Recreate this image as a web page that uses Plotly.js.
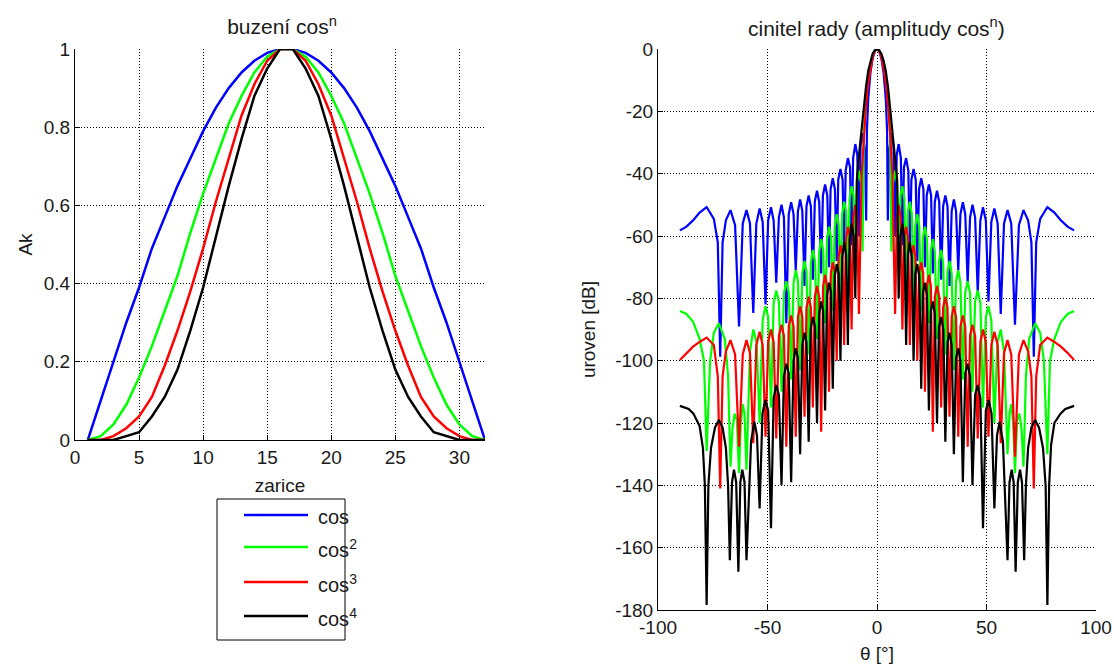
<!DOCTYPE html>
<html>
<head>
<meta charset="utf-8">
<script src="https://cdn.plot.ly/plotly-3.0.1.min.js"></script>
<style>html,body{margin:0;padding:0;background:#fff;}#chart{width:1114px;height:665px;}</style>
</head>
<body>
<div id="chart"></div>
<script>
// ---------- left panel: excitation of the elements ----------
const elements = [1,2,3,4,5,6,7,8,9,10,11,12,13,14,15,16,17,18,19,20,21,22,23,24,25,26,27,28,29,30,31,32];
const ampCos1 = [0,.10,.20,.30,.39,.49,.57,.65,.72,.79,.85,.90,.94,.97,.99,1,1,.99,.97,.94,.90,.85,.79,.72,.65,.57,.49,.39,.30,.20,.10,0];
const ampCos2 = [0,.01,.04,.09,.16,.24,.33,.42,.53,.63,.72,.81,.88,.94,.98,1,1,.98,.94,.88,.81,.72,.63,.53,.42,.33,.24,.16,.09,.04,.01,0];
const ampCos3 = [0,0,.01,.03,.06,.11,.19,.28,.38,.49,.61,.72,.83,.91,.97,1,1,.97,.91,.83,.72,.61,.49,.38,.28,.19,.11,.06,.03,.01,0,0];
const ampCos4 = [0,0,0,.01,.02,.06,.11,.18,.28,.39,.52,.65,.77,.88,.95,1,1,.95,.88,.77,.65,.52,.39,.28,.18,.11,.06,.02,.01,0,0,0];

// ---------- right panel: array factor ----------
const blueTheta = [-90,-87,-84,-81,-77.8,-74.5,-72.7,-71.6,-70.5,-69,-66.9,-64.8,-63,-61.3,-59.6,-58,-56.5,-55.1,-53.6,-52.2,-50.9,-49.7,-48.4,-47.2,-46,-44.8,-43.6,-42.5,-41.4,-40.3,-39.2,-38.1,-37.1,-36.1,-35.1,-34.1,-33.1,-32.2,-31.2,-30.2,-29.3,-28.4,-27.4,-26.4,-25.5,-24.7,-23.7,-22.7,-21.9,-21.2,-20.2,-19.2,-18.4,-17.7,-16.7,-15.7,-15,-14.3,-13.3,-12.3,-11.6,-10.9,-9.9,-9,-8.26,-7.5,-6.6,-5.5,-4.95,-4.6,-4,-3,-2,-1,
  0,1,2,3,4,4.6,4.95,5.5,6.6,7.5,8.26,9,9.9,10.9,11.6,12.3,13.3,14.3,15,15.7,16.7,17.7,18.4,19.2,20.2,21.2,21.9,22.7,23.7,24.7,25.5,26.4,27.4,28.4,29.3,30.2,31.2,32.2,33.1,34.1,35.1,36.1,37.1,38.1,39.2,40.3,41.4,42.5,43.6,44.8,46,47.2,48.4,49.7,50.9,52.2,53.6,55.1,56.5,58,59.6,61.3,63,64.8,66.9,69,70.5,71.6,72.7,74.5,77.8,81,84,87,90];
const blueLevel = [-58.2,-57,-55,-52.5,-50.7,-54.5,-62,-98.7,-62,-55,-51.7,-56.5,-89,-56,-51.7,-56,-84.7,-56,-51.2,-55.5,-82,-55,-50.8,-55,-75,-54,-50,-54,-88,-53,-49.2,-53,-71,-52,-48.3,-52,-76,-50.5,-47,-50.5,-74,-49,-45.5,-49,-72,-47,-43.5,-47,-70,-45,-41.5,-45,-68,-42,-38.5,-42,-65,-39,-35,-38,-63,-35,-30.5,-34,-60,-31,-27,-33,-55,-26,-15.9,-7.6,-3.1,-0.7,
  0,-0.7,-3.1,-7.6,-15.9,-26,-55,-33,-27,-31,-60,-34,-30.5,-35,-63,-38,-35,-39,-65,-42,-38.5,-42,-68,-45,-41.5,-45,-70,-47,-43.5,-47,-72,-49,-45.5,-49,-74,-50.5,-47,-50.5,-76,-52,-48.3,-52,-71,-53,-49.2,-53,-75,-54,-50,-54,-78,-55,-50.8,-55,-81,-55.5,-51.2,-56,-85,-56,-51.7,-56,-88.5,-56.5,-51.7,-55,-62,-98.7,-62,-54.5,-50.7,-52.5,-55,-57,-58.2];

const greenTheta = [-90,-87,-84,-81,-79,-77.8,-76.2,-74.5,-72.2,-69.5,-68,-66.9,-66,-65,-64,-63,-62.2,-61.3,-60.5,-59.6,-58,-56.5,-55,-53.6,-52.2,-50.9,-49.7,-48.4,-47.2,-46,-44.8,-43.6,-42.5,-41.4,-40.3,-39.2,-38.1,-37.1,-36.1,-35.1,-34.1,-33.1,-32.2,-31.2,-30.2,-29.3,-28.3,-27.4,-26.4,-25.5,-24.6,-23.7,-22.8,-21.9,-21,-20.2,-19.3,-18.4,-17.5,-16.7,-15.9,-15,-14.1,-13.3,-12.5,-11.6,-10.7,-9.9,-9.2,-8.3,-7.3,-6.6,-6,-5,-4,-3,-2,-1,
  0,1,2,3,4,5,6,6.6,7.3,8.3,9.2,9.9,10.7,11.6,12.5,13.3,14.1,15,15.9,16.7,17.5,18.4,19.3,20.2,21,21.9,22.8,23.7,24.6,25.5,26.4,27.4,28.3,29.3,30.2,31.2,32.2,33.1,34.1,35.1,36.1,37.1,38.1,39.2,40.3,41.4,42.5,43.6,44.8,46,47.2,48.4,49.7,50.9,52.2,53.6,55,56.5,58,59.6,60.5,61.3,62.2,63,64,65,66,66.9,68,69.5,72.2,74.5,76.2,77.8,79,81,84,87,90];
const greenLevel = [-84.1,-85,-87.5,-93,-100,-129,-100,-91,-88,-93,-105,-134,-122,-117,-119,-136,-120,-114,-117,-135,-97,-90,-94,-120,-87,-82.5,-86,-115,-81.5,-77.5,-81,-110,-78.5,-74.5,-78,-106,-75,-71,-74.5,-103,-72,-68,-71.5,-98,-68.5,-64.5,-68,-93,-65,-61,-64.5,-88,-61,-57,-60.5,-84,-57,-53,-56.5,-80,-53,-49,-52,-76,-48,-44,-47,-72,-43,-39,-43,-65,-27.8,-15.9,-9.2,-5.2,-2.1,-0.5,
  0,-0.5,-2.1,-5.2,-9.2,-15.9,-27.8,-65,-43,-39,-43,-72,-47,-44,-48,-76,-52,-49,-53,-80,-56.5,-53,-57,-84,-60.5,-57,-61,-88,-64.5,-61,-65,-93,-68,-64.5,-68.5,-98,-71.5,-68,-72,-103,-74.5,-71,-75,-106,-78,-74.5,-78.5,-110,-81,-77.5,-81.5,-115,-86,-82.5,-87,-120,-94,-90,-97,-130,-117,-114,-120,-136,-119,-117,-122,-134,-105,-93,-88,-91,-100,-130,-100,-93,-87.5,-85,-84.1];

const redTheta = [-90,-87,-84,-81,-77.8,-74.5,-72.7,-71.6,-70.5,-69,-66.9,-64.8,-63,-61.3,-59.6,-58,-56.5,-55.1,-53.6,-52.2,-50.9,-49.7,-48.4,-47.2,-46,-44.8,-43.6,-42.5,-41.4,-40.3,-39.2,-38.1,-37.1,-36.1,-35.1,-34.1,-33.1,-32.2,-31.2,-30.2,-29.3,-28.4,-27.4,-26.4,-25.5,-24.6,-23.7,-22.8,-21.9,-21.1,-20.2,-19.3,-18.4,-17.6,-16.7,-15.8,-15,-14.2,-13.3,-12.4,-11.6,-10.8,-9.9,-9.1,-8.26,-7,-6,-5,-4,-3,-2,-1,
  0,1,2,3,4,5,6,7,8.26,9.1,9.9,10.8,11.6,12.4,13.3,14.2,15,15.8,16.7,17.6,18.4,19.3,20.2,21.1,21.9,22.8,23.7,24.6,25.5,26.4,27.4,28.4,29.3,30.2,31.2,32.2,33.1,34.1,35.1,36.1,37.1,38.1,39.2,40.3,41.4,42.5,43.6,44.8,46,47.2,48.4,49.7,50.9,52.2,53.6,55.1,56.5,58,59.6,61.3,63,64.8,66.9,69,70.5,71.6,72.7,74.5,77.8,81,84,87,90];
const redLevel = [-99.8,-97.5,-95.5,-94,-92.6,-95,-105,-141,-105,-97,-93.4,-98,-127.6,-98,-93.4,-97.5,-126.5,-95,-90.7,-95,-124.4,-94,-90,-94,-125,-92,-88.5,-92,-127.6,-89,-85.5,-89,-124.4,-86,-82.5,-86,-118,-83,-79.5,-83,-115,-79.5,-76,-79.5,-122.8,-76,-72.5,-76,-110,-72,-68.5,-71.5,-100,-67,-63,-66,-95,-61,-57,-60,-90,-54,-50,-54,-85,-40,-27,-18,-11,-6,-2.6,-0.6,
  0,-0.6,-2.6,-6,-11,-18,-27,-40,-85,-54,-50,-54,-90,-60,-57,-61,-95,-66,-63,-67,-100,-71.5,-68.5,-72,-110,-76,-72.5,-76,-122.8,-79.5,-76,-79.5,-115,-83,-79.5,-83,-118,-86,-82.5,-86,-124.4,-89,-85.5,-89,-127.6,-92,-88.5,-92,-125,-94,-90,-94,-124.4,-95,-90.7,-95,-126.5,-97.5,-93.4,-98,-130.8,-98,-93.4,-97,-105,-141,-105,-95,-92.6,-94,-95.5,-97.5,-99.8];

const blackTheta = [-90,-86,-83.8,-81,-79.5,-78.6,-77.8,-77,-75.8,-74,-72.2,-70.5,-69,-68,-67.2,-66.2,-65.3,-64.3,-63.3,-62.4,-61.5,-60.5,-59.6,-57.5,-56,-54.8,-53.6,-52.3,-51,-49.7,-48.4,-47.2,-46,-44.8,-43.6,-42.5,-41.4,-40.3,-39.2,-38.1,-37.1,-36.1,-35.1,-34.1,-33.1,-32.2,-31.2,-30.3,-29.3,-28.3,-27.4,-26.4,-25.5,-24.6,-23.7,-22.8,-21.9,-21,-20.2,-19.3,-18.4,-17.5,-16.7,-15.9,-15,-14.1,-13.3,-12.5,-11.6,-10.7,-9.9,-9.2,-8.5,-7.7,-7,-6,-5,-4,-3,-2,-1,
  0,1,2,3,4,5,6,7,7.7,8.5,9.2,9.9,10.7,11.6,12.5,13.3,14.1,15,15.9,16.7,17.5,18.4,19.3,20.2,21,21.9,22.8,23.7,24.6,25.5,26.4,27.4,28.3,29.3,30.3,31.2,32.2,33.1,34.1,35.1,36.1,37.1,38.1,39.2,40.3,41.4,42.5,43.6,44.8,46,47.2,48.4,49.7,51,52.3,53.6,54.8,56,57.5,59.6,60.5,61.5,62.4,63.3,64.3,65.3,66.2,67.2,68,69,70.5,72.2,74,75.8,77,77.8,78.6,79.5,81,83.8,86,90];
const blackLevel = [-114.5,-115.5,-117,-121,-128,-140,-178.4,-140,-128,-121.5,-119,-121.5,-128,-140,-164,-139,-135,-139,-167.7,-139,-135,-139,-164,-126,-119.6,-124,-147.4,-117,-112.6,-116,-153.8,-112,-107.8,-111,-140,-105,-101,-104,-139,-100,-96,-99,-130,-95,-91,-94,-126,-90,-86,-89,-120,-85,-81,-84,-116,-79,-75,-78,-109,-73,-69,-72,-100,-67,-62,-66,-95,-61,-56,-60,-80,-42,-36,-30,-25,-19,-12,-7,-3.8,-1.5,-0.4,
  0,-0.4,-1.5,-3.8,-7,-12,-19,-25,-30,-36,-42,-80,-60,-56,-61,-95,-66,-62,-67,-100,-72,-69,-73,-109,-78,-75,-79,-116,-84,-81,-85,-120,-89,-86,-90,-126,-94,-91,-95,-130,-99,-96,-100,-139,-104,-101,-105,-140,-111,-107.8,-112,-153.8,-116,-112.6,-117,-147.4,-124,-119.6,-126,-164,-139,-135,-139,-167.7,-139,-135,-139,-164,-140,-128,-121.5,-119,-121.5,-128,-140,-178.4,-140,-127,-120,-117,-115.5,-114.5];

// ---------- labels ----------
const seriesNames = ['cos', 'cos<sup>2</sup>', 'cos<sup>3</sup>', 'cos<sup>4</sup>'];
const seriesColors = ['#0000ff', '#00ff00', '#ff0000', '#000000'];
const leftXTicks = [0,5,10,15,20,25,30];
const leftYTicks = [0,0.2,0.4,0.6,0.8,1];
const leftYTickText = ['0','0.2','0.4','0.6','0.8','1'];
const rightXTicks = [-100,-50,0,50,100];
const rightXTickText = ['-100','-50','0','50','100'];
const rightYTicks = [0,-20,-40,-60,-80,-100,-120,-140,-160,-180];
const rightYTickText = ['0','-20','-40','-60','-80','-100','-120','-140','-160','-180'];

// ---------- build ----------
const W = 1114, H = 665;
const px = v => v / W;
const py = v => 1 - v / H;
const FONT = 'Liberation Sans, Arial, Helvetica, sans-serif';
const TXT = '#1a1a1a';

const amps = [ampCos1, ampCos2, ampCos3, ampCos4];
const thetas = [blueTheta, greenTheta, redTheta, blackTheta];
const levels = [blueLevel, greenLevel, redLevel, blackLevel];

const traces = [];
for (let i = 0; i < 4; i++) {
  traces.push({x: elements, y: amps[i], type: 'scatter', mode: 'lines', xaxis: 'x', yaxis: 'y',
    line: {color: seriesColors[i], width: 2.5}, name: seriesNames[i], showlegend: false, hoverinfo: 'skip'});
}
for (let i = 0; i < 4; i++) {
  traces.push({x: thetas[i], y: levels[i], type: 'scatter', mode: 'lines', xaxis: 'x2', yaxis: 'y2',
    line: {color: seriesColors[i], width: 2.2}, name: seriesNames[i], showlegend: false, hoverinfo: 'skip'});
}

const axisBase = {
  showline: true, linecolor: '#000', linewidth: 1, mirror: false,
  ticks: 'inside', ticklen: 5, tickcolor: '#000', tickwidth: 1,
  showgrid: true, gridcolor: '#000', gridwidth: 1, griddash: '1px,2px',
  zeroline: false, tickfont: {family: FONT, size: 19, color: TXT},
  tickmode: 'array', fixedrange: true, automargin: false
};
const titleFont = {family: FONT, size: 19, color: TXT};

// legend drawn as a box, short lines and texts (geometry as in the reference)
const legendRows = [515, 547, 582, 616];
const shapes = [{type: 'rect', xref: 'paper', yref: 'paper', x0: px(217), x1: px(345), y0: py(640), y1: py(499),
  line: {color: '#000', width: 1}, fillcolor: '#fff', layer: 'above'}];
const annotations = [{text: 'cinitel rady (amplitudy cos<sup>n</sup>)', xref: 'paper', yref: 'paper', x: px(876), y: py(27),
  xanchor: 'center', yanchor: 'middle', showarrow: false, font: {family: FONT, size: 21, color: TXT}}];
for (let i = 0; i < 4; i++) {
  shapes.push({type: 'line', xref: 'paper', yref: 'paper', x0: px(244), x1: px(308), y0: py(legendRows[i]), y1: py(legendRows[i]),
    line: {color: seriesColors[i], width: 2.5}, layer: 'above'});
  annotations.push({text: seriesNames[i], xref: 'paper', yref: 'paper', x: px(316), y: py(legendRows[i] + (i === 0 ? 2 : 1)),
    xanchor: 'left', yanchor: 'middle', showarrow: false, font: {family: FONT, size: 20, color: TXT}});
}

const layout = {
  width: W, height: H, margin: {l: 0, r: 0, t: 0, b: 0},
  paper_bgcolor: '#fff', plot_bgcolor: '#fff', showlegend: false,
  title: {text: 'buzení cos<sup>n</sup>', x: px(282), xref: 'paper', xanchor: 'center',
    y: py(27), yref: 'paper', yanchor: 'middle', font: {family: FONT, size: 21, color: TXT}},
  xaxis: Object.assign({}, axisBase, {domain: [px(75), px(485)], range: [0, 32], tickvals: leftXTicks, anchor: 'y',
    title: {text: 'zarice', font: titleFont, standoff: 11}}),
  yaxis: Object.assign({}, axisBase, {domain: [py(440), py(49)], range: [0, 1], tickvals: leftYTicks, ticktext: leftYTickText, anchor: 'x',
    title: {text: 'Ak', font: titleFont, standoff: 6}}),
  xaxis2: Object.assign({}, axisBase, {domain: [px(658), px(1096)], range: [-100, 100], tickvals: rightXTicks, ticktext: rightXTickText, anchor: 'y2',
    title: {text: 'θ [°]', font: titleFont, standoff: 9}}),
  yaxis2: Object.assign({}, axisBase, {domain: [py(610), py(49)], range: [-180, 0], tickvals: rightYTicks, ticktext: rightYTickText, anchor: 'x2',
    title: {text: 'uroven [dB]', font: titleFont, standoff: 14}}),
  annotations: annotations, shapes: shapes
};

Plotly.newPlot('chart', traces, layout, {displayModeBar: false, staticPlot: true});
</script>
</body>
</html>
